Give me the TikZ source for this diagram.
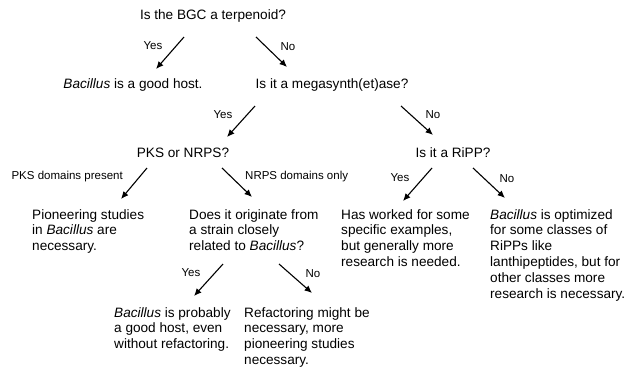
\documentclass[tikz,border=0pt]{standalone}
\usepackage{fontspec}
\setmainfont{Liberation Sans}
\usetikzlibrary{arrows.meta}
\begin{document}
\begin{tikzpicture}[x=1pt,y=-1pt,
  q/.style={inner sep=0, font=\fontsize{13.6}{15.8}\selectfont},
  blk/.style={q, anchor=north west, align=left},
  lbl/.style={inner sep=0, font=\fontsize{11.5}{13}\selectfont},
  arr/.style={-{Latex[length=7.5pt,width=6.5pt]}, line width=1.1pt}]
\useasboundingbox (0,0) rectangle (625,367);
\node[q] (q0) at (213,16){Is the BGC a terpenoid?};
\node[q] (host) at (133,85){\textit{Bacillus} is a good host.};
\node[q] (q1) at (332,85){Is it a megasynth(et)ase?};
\node[q] (q2) at (183,153){PKS or NRPS?};
\node[q] (q3) at (453,153){Is it a RiPP?};
\node[blk] (pio) at (32,209){Pioneering studies\\in \textit{Bacillus} are\\necessary.};
\node[blk] (q4) at (189,209){Does it originate from\\a strain closely\\related to \textit{Bacillus}?};
\node[blk] (has) at (341,209){Has worked for some\\specific examples,\\but generally more\\research is needed.};
\node[blk] (opt) at (490,209){\textit{Bacillus} is optimized\\for some classes of\\RiPPs like\\lanthipeptides, but for\\other classes more\\research is necessary.};
\node[blk] (prob) at (114,307){\textit{Bacillus} is probably\\a good host, even\\without refactoring.};
\node[blk] (refac) at (244,307){Refactoring might be\\necessary, more\\pioneering studies\\necessary.};
% arrow ends
\coordinate (a0) at (184,37); \coordinate (b0) at (156,69);
\coordinate (a1) at (256,37); \coordinate (b1) at (287,67);
\coordinate (a2) at (255,106); \coordinate (b2) at (227,137);
\coordinate (a3) at (401,106); \coordinate (b3) at (433,135);
\coordinate (a4) at (147,168); \coordinate (b4) at (121,199);
\coordinate (a5) at (222,168); \coordinate (b5) at (252,197);
\coordinate (a6) at (432,168); \coordinate (b6) at (403,201);
\coordinate (a7) at (473,168); \coordinate (b7) at (505,198);
\coordinate (a8) at (223,264); \coordinate (b8) at (194,296);
\coordinate (a9) at (279,264); \coordinate (b9) at (312,293);
\draw[arr](a0) -- (b0);
\draw[arr](a1) -- (b1);
\draw[arr](a2) -- (b2);
\draw[arr](a3) -- (b3);
\draw[arr](a4) -- (b4);
\draw[arr](a5) -- (b5);
\draw[arr](a6) -- (b6);
\draw[arr](a7) -- (b7);
\draw[arr](a8) -- (b8);
\draw[arr](a9) -- (b9);
% labels
\node[lbl] (l0) at (153,46){Yes};
\node[lbl] (l1) at (288,47){No};
\node[lbl] (l2) at (223,115){Yes};
\node[lbl] (l3) at (433,115){No};
\node[lbl, anchor=east] (l4) at (123,177){PKS domains present};
\node[lbl, anchor=west] (l5) at (245,177){NRPS domains only};
\node[lbl] (l6) at (400,178){Yes};
\node[lbl] (l7) at (507,179){No};
\node[lbl] (l8) at (191,273){Yes};
\node[lbl] (l9) at (313,274){No};

\end{tikzpicture}
\end{document}
